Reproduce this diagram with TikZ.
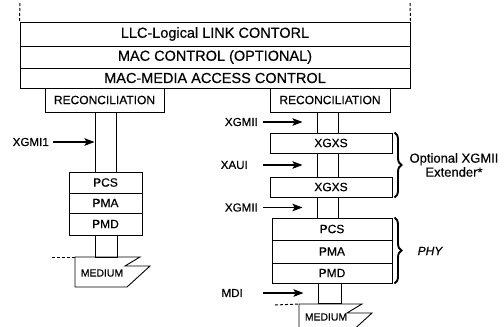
\documentclass[tikz,border=0pt]{standalone}
\usepackage{fontspec}
\setmainfont{Liberation Sans}[FakeBold=0.5]
\usetikzlibrary{arrows.meta,decorations.pathreplacing}
\begin{document}
\begin{tikzpicture}[x=1pt,y=-1pt,
  box/.style={draw, line width=1pt, inner sep=0pt, font=\fontsize{12}{12}\selectfont},
  bigbox/.style={box, font=\fontsize{14.5}{15}\selectfont},
  pipe/.style={draw, line width=1pt, inner sep=0pt},
  lbl/.style={inner sep=0pt, font=\fontsize{11.6}{12}\selectfont},
  arr/.style={line width=1.1pt, -{Stealth[length=10pt,width=7.5pt,inset=2pt]}},
  brc/.style={decorate, decoration={brace, amplitude=7pt}, line width=1.9pt},
  medium/.style={draw, line width=0.9pt},
  medtxt/.style={inner sep=0pt, font=\fontsize{10.4}{11}\selectfont},
  dsh/.style={line width=1pt, dash pattern=on 3pt off 2pt},
]
\useasboundingbox (0,0) rectangle (504,327);
\clip (0,0) rectangle (504,327);

% upper stack
\node[bigbox, minimum width=390pt, minimum height=24pt] (llc) at (215,34) {LLC-Logical LINK CONTORL};
\node[bigbox, minimum width=390pt, minimum height=22pt] (macc) at (215,57) {MAC CONTROL (OPTIONAL)};
\node[bigbox, minimum width=390pt, minimum height=20pt] (mac) at (215,78) {MAC-MEDIA ACCESS CONTROL};
\coordinate (dl) at (20,3);
\coordinate (dr) at (410,3);
\draw[dsh] (dl) -- (llc.north west);
\draw[dsh] (dr) -- (llc.north east);

% left column
\node[box, minimum width=119pt, minimum height=24pt] (recL) at (104.5,100) {RECONCILIATION};
\node[pipe, minimum width=21pt, minimum height=60pt] (pipeL1) at (105.5,142) {};
\node[box, minimum width=73pt, minimum height=21pt] (pcsL) at (105.5,182.5) {PCS};
\node[box, minimum width=73pt, minimum height=20pt] (pmaL) at (105.5,203) {PMA};
\node[box, minimum width=73pt, minimum height=22pt] (pmdL) at (105.5,224) {PMD};
\node[pipe, minimum width=22pt, minimum height=22pt] (pipeL2) at (106,246) {};
\coordinate (medL) at (75,257);
\draw[medium] (medL) -- ++(65,0) -- ++(-15,9) -- ++(25,0) -- ++(-23,21) -- ++(-52,0) -- cycle;
\node[medtxt] (medLt) at (102,273) {MEDIUM};
\coordinate (dmL) at (52,257);
\draw[dsh] (dmL) -- (medL);
\node[lbl, anchor=east] (xgL) at (49,142) {XGMI1};
\draw[arr, shorten <=4pt] (xgL.east) -- (pipeL1.west);

% right column
\node[box, minimum width=120pt, minimum height=24pt] (recR) at (330,100) {RECONCILIATION};
\node[pipe, minimum width=21pt, minimum height=21pt] (pipeR1) at (327.5,122.5) {};
\node[box, minimum width=122pt, minimum height=20pt] (xgxs1) at (331,143) {XGXS};
\node[pipe, minimum width=21pt, minimum height=24pt] (pipeR2) at (327.5,165) {};
\node[box, minimum width=122pt, minimum height=20pt] (xgxs2) at (331,187) {XGXS};
\node[pipe, minimum width=21pt, minimum height=21pt] (pipeR3) at (327.5,207.5) {};
\node[box, minimum width=120pt, minimum height=22pt] (pcsR) at (332,229) {PCS};
\node[box, minimum width=120pt, minimum height=23pt] (pmaR) at (332,251.5) {PMA};
\node[box, minimum width=120pt, minimum height=20pt] (pmdR) at (332,273) {PMD};
\node[pipe, minimum width=23pt, minimum height=20pt] (pipeR4) at (329.5,293) {};
\coordinate (medR) at (299,304);
\draw[medium] (medR) -- ++(63,0) -- ++(-15,9) -- ++(25,0) -- ++(-23,21) -- ++(-50,0) -- cycle;
\node[medtxt] (medRt) at (326,317) {MEDIUM};
\coordinate (dmR) at (275,305);
\draw[dsh] (dmR) -- (medR);

\node[lbl, anchor=east] (xg1) at (258,122) {XGMII};
\node[lbl, anchor=east] (xaui) at (248,165) {XAUI};
\node[lbl, anchor=east] (xg2) at (258,207.5) {XGMII};
\node[lbl, anchor=east] (mdi) at (243,293) {MDI};
\draw[arr, shorten <=5pt, shorten >=14pt] (xg1.east) -- (xg1.east -| pipeR1.west);
\draw[arr, shorten <=15pt, shorten >=14pt] (xaui.east) -- (pipeR2.west);
\draw[arr, shorten <=5pt, shorten >=14pt] (xg2.east) -- (pipeR3.west);
\draw[arr, shorten <=20pt, shorten >=14pt] (mdi.east) -- (pipeR4.west);

% braces
\draw[brc] ([xshift=2pt]xgxs1.north east) -- ([xshift=2pt]xgxs2.south east);
\draw[brc] ([xshift=2pt]pcsR.north east) -- ([xshift=2pt]pmdR.south east);
\node[inner sep=0pt, align=center, font=\fontsize{13}{14}\selectfont] (optl) at (454,165) {Optional XGMII\\Extender*};
\node[inner sep=0pt, font=\fontsize{12}{12}\selectfont\itshape] (phy) at (430,251) {PHY};
\end{tikzpicture}
\end{document}
